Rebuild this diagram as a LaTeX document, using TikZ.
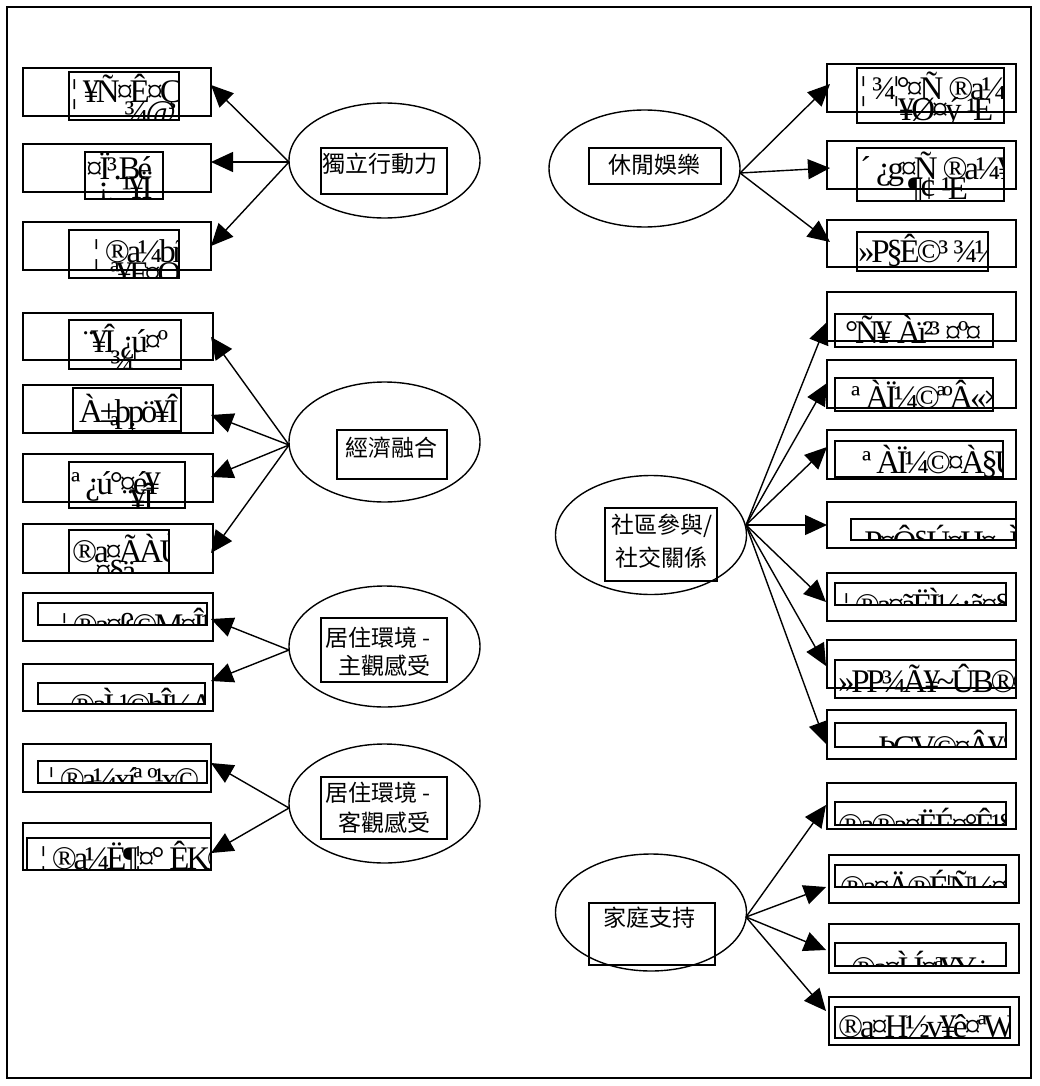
\documentclass[tikz,border=0pt]{standalone}
\usepackage{fontspec}
\setmainfont{Liberation Serif}
\newfontfamily\garbf{Liberation Serif}[LetterSpace=-10]
\newfontfamily\cjk{Noto Sans CJK TC}
\usetikzlibrary{arrows.meta,shapes.geometric,fit}
\newcommand\mkbox[5]{\node[obox,fit={(#2,#3)(#4,#5)}] (#1) {};}
\newcommand\mkgarb[6]{\begin{scope}\clip (#2,#3) rectangle (#4,#5); #6 \end{scope}
  \node[obox,fit={(#2,#3)(#4,#5)}] (#1) {};}
\begin{document}
\begin{tikzpicture}[x=1pt,y=-1pt,
  obox/.style={draw,line width=1.4pt,inner sep=0pt,rectangle},
  oval/.style={draw,line width=1.4pt,ellipse,inner sep=0pt},
  arr/.style={line width=1.4pt,-{Triangle[length=22pt,width=20pt]}},
  cj/.style={font=\cjk\fontsize{23}{27}\selectfont,anchor=west,inner sep=0pt},
  gb/.style={font=\garbf\fontsize{33}{33}\selectfont,anchor=base west,inner sep=0pt}]
\useasboundingbox (0,0) rectangle (1039,1086);
\node[obox,fit={(7,7)(1031,1078)}] (frame) {};

% ---------- left ellipses ----------
\node[oval,minimum width=191pt,minimum height=115pt] (e1) at (384.5,160.5) {};
\node[obox,fit={(321,148)(447,194)}] (e1r) {};
\node[cj] (e1t) at (322,164) {獨立行動力};

\node[oval,minimum width=191pt,minimum height=120pt] (e2) at (384.5,442) {};
\node[obox,fit={(337,430)(447,479)}] (e2r) {};
\node[cj] (e2t) at (345,448) {經濟融合};

\node[oval,minimum width=191pt,minimum height=121pt] (e3) at (384.5,646.5) {};
\node[obox,fit={(321,618)(447,682)}] (e3r) {};
\node[cj] (e3t) at (325,638) {居住環境 -};
\node[cj] (e3u) at (338,666) {主觀感受};

\node[oval,minimum width=191pt,minimum height=119pt] (e4) at (384.5,803.5) {};
\node[obox,fit={(321,777)(447,839)}] (e4r) {};
\node[cj] (e4t) at (325,793) {居住環境 -};
\node[cj] (e4u) at (338,823) {客觀感受};

% ---------- right ellipses ----------
\node[oval,minimum width=191pt,minimum height=117pt] (e5) at (644.5,168.5) {};
\node[obox,fit={(589,148)(721,184)}] (e5r) {};
\node[cj] (e5t) at (608,164.5) {休閒娛樂};

\node[oval,minimum width=191pt,minimum height=119pt] (e6) at (651,535) {};
\node[obox,fit={(605,508)(717,581)}] (e6r) {};
\node[cj] (e6t) at (611,526) {社區參與/};
\node[cj] (e6u) at (615,558) {社交關係};

\node[oval,minimum width=191pt,minimum height=117pt] (e7) at (651,912.5) {};
\node[obox,fit={(589,903)(715,965)}] (e7r) {};
\node[cj] (e7t) at (603,918) {家庭支持};

% ---------- left boxes ----------
\mkbox{a1}{23}{68}{211}{116}
\mkgarb{a1i}{69}{72}{179}{120}{\node[gb] (a1x) at (71,103) {¦ ¥Ñ¤Ê¤Ç}; \node[gb] (a1y) at (108,124) {¸ ¾@};}
\mkbox{a2}{23}{144}{211}{192}
\mkgarb{a2i}{85}{152}{163}{199}{\node[gb] (a2x) at (86,180) {¤Ï³.Bé}; \node[gb] (a2y) at (98,199) {¡¸ ¹¥Ï};}
\mkbox{a3}{23}{222}{211}{270}
\mkgarb{a3i}{69}{230}{179}{278}{\node[gb] (a3x) at (93,262) {¦ ®a¼bñ}; \node[gb] (a3y) at (110,284) {ª¥F¤O};}
\mkbox{a4}{23}{313}{213}{360}
\mkgarb{a4i}{69}{320}{181}{369}{\node[gb] (a4x) at (83,352) {¨¥Î ¿ú¤º}; \node[gb] (a4y) at (110,372) {¾¦};}
\mkbox{a5}{23}{385}{213}{433}
\mkgarb{a5i}{73}{388}{181}{431}{\node[gb] (a5x) at (79,422) {À±þpö¥Î}; \node[gb] (a5y) at (110,438) {ª ¿};}
\mkbox{a6}{23}{454}{213}{502}
\mkgarb{a6i}{69}{462}{185}{508}{\node[gb] (a6x) at (71,494) {ª ¿ú°¤é¥}; \node[gb] (a6y) at (122,511) {¨¥Î};}
\mkbox{a7}{23}{524}{213}{573}
\mkgarb{a7i}{69}{530}{169}{573}{\node[gb] (a7x) at (72,562) {®a¤ÃÀÙ©Ò}; \node[gb] (a7y) at (95,582) {¤§ä};}
\mkbox{a8}{23}{593}{213}{641}
\mkgarb{a8i}{38}{603}{207}{625}{\node[gb] (a8x) at (61,636) {¦ ®a¤ß©M¤Î¼A};}
\mkbox{a9}{23}{664}{213}{711}
\mkgarb{a9i}{38}{683}{205}{704}{\node[gb] (a9x) at (70,716) {®aÌ ¹©hÎ¼A};}
\mkbox{a10}{23}{744}{211}{792}
\mkgarb{a10i}{38}{761}{207}{783}{\node[gb] (a10x) at (48,790) {¦ ®a¼xíª º¹x©};}
\mkbox{a11}{23}{823}{211}{870}
\mkgarb{a11i}{27}{838}{211}{870}{\node[gb] (a11x) at (40,869) {¦ ®a¼Ë¶¦¤° ÊK©};}

% ---------- right boxes ----------
\mkbox{b1}{827}{64}{1016}{112}
\mkgarb{b1i}{857}{68}{1004}{123}{\node[gb] (b1x) at (860,100) {¦ ¾¦°¤Ñ ®a¼b}; \node[gb] (b1y) at (898,121) {¥Ø¤ý ¹E};}
\mkbox{b2}{827}{141}{1016}{189}
\mkgarb{b2i}{857}{148}{1004}{201}{\node[gb] (b2x) at (860,180) {´ ¿g¤Ñ ®a¼¥}; \node[gb] (b2y) at (908,200) {¶¢ ¹E};}
\mkbox{b3}{827}{220}{1016}{267}
\mkgarb{b3i}{857}{232}{988}{271}{\node[gb] (b3x) at (858,262) {»P§Ê©³ ¾¼};}
\mkbox{b4}{827}{292}{1016}{341}
\mkgarb{b4i}{835}{314}{993}{347}{\node[gb] (b4x) at (845,343) {°Ñ¥ Àï²³ ¤º¤};}
\mkbox{b5}{827}{360}{1016}{408}
\mkgarb{b5i}{835}{378}{993}{411}{\node[gb] (b5x) at (851,408) {ª ÀÏ¼©ªºÂ«×};}
\mkbox{b6}{827}{430}{1016}{479}
\mkgarb{b6i}{835}{441}{1003}{477}{\node[gb] (b6x) at (862,473) {ª ÀÏ¼©¤À§U};}
\mkbox{b7}{827}{502}{1016}{548}
\mkgarb{b7i}{851}{519}{1016}{540}{\node[gb] (b7x) at (851,553) {»P¤Ô§Ú¤H¤¬Ì ¤Í};}
\mkbox{b8}{827}{573}{1016}{621}
\mkgarb{b8i}{835}{583}{1006}{605}{\node[gb] (b8x) at (843,616) {¦ ®a¤ãËÌ¼¿ã¤§};}
\mkbox{b9}{827}{640}{1016}{688}
\mkgarb{b9i}{835}{660}{1016}{698}{\node[gb] (b9x) at (838,692) {»PP¾Ã¥\textasciitilde ÛB®®§};}
\mkbox{b10}{827}{710}{1016}{759}
\mkgarb{b10i}{835}{723}{1006}{747}{\node[gb] (b10x) at (862,758) {¸ ÞÇV©¤Â¥§Î};}
\mkbox{b11}{827}{783}{1016}{829}
\mkgarb{b11i}{835}{802}{1006}{825}{\node[gb] (b11x) at (838,836) {®a®a¤ËÉ¤°Ê¹§í};}
\mkbox{b12}{829}{855}{1019}{903}
\mkgarb{b12i}{835}{865}{1006}{887}{\node[gb] (b12x) at (840,898) {®a¤Ä®É¦Ñ¼¤(};}
\mkbox{b13}{829}{924}{1019}{973}
\mkgarb{b13i}{835}{943}{1006}{966}{\node[gb] (b13x) at (851,979) {®a¤Ì Í¤ª¥Y÷};}
\mkbox{b14}{829}{997}{1019}{1045}
\mkgarb{b14i}{835}{1007}{1010}{1038}{\node[gb] (b14x) at (838,1037) {®a¤H½v¥ê¤ªW¼Â};}

% ---------- hubs and tips ----------
\coordinate (h1) at (289,162);
\coordinate (h2) at (289,445);
\coordinate (h3) at (289,650);
\coordinate (h4) at (289,808);
\coordinate (h5) at (740,173);
\coordinate (h6) at (746,525);
\coordinate (h7) at (746,917);

\coordinate (ta1) at (211,85);  \coordinate (ta2) at (211,162); \coordinate (ta3) at (211,246);
\coordinate (ta4) at (211,337); \coordinate (ta5) at (211,415); \coordinate (ta6) at (211,477); \coordinate (ta7) at (211,553);
\coordinate (ta8) at (211,619); \coordinate (ta9) at (211,681);
\coordinate (ta10) at (211,763); \coordinate (ta11) at (211,853);
\coordinate (tb1) at (830,84); \coordinate (tb2) at (830,168); \coordinate (tb3) at (830,242);
\coordinate (tb4) at (827,322); \coordinate (tb5) at (827,383); \coordinate (tb6) at (827,447); \coordinate (tb7) at (827,525);
\coordinate (tb8) at (826,602); \coordinate (tb9) at (826,666); \coordinate (tb10) at (826,744);
\coordinate (tb11) at (826,805); \coordinate (tb12) at (826,887); \coordinate (tb13) at (826,950); \coordinate (tb14) at (826,1011);

\foreach \t in {ta1,ta2,ta3} \draw[arr] (h1) -- (\t);
\foreach \t in {ta4,ta5,ta6,ta7} \draw[arr] (h2) -- (\t);
\foreach \t in {ta8,ta9} \draw[arr] (h3) -- (\t);
\foreach \t in {ta10,ta11} \draw[arr] (h4) -- (\t);
\foreach \t in {tb1,tb2,tb3} \draw[arr] (h5) -- (\t);
\foreach \t in {tb4,tb5,tb6,tb7,tb8,tb9,tb10} \draw[arr] (h6) -- (\t);
\foreach \t in {tb11,tb12,tb13,tb14} \draw[arr] (h7) -- (\t);
\end{tikzpicture}
\end{document}
